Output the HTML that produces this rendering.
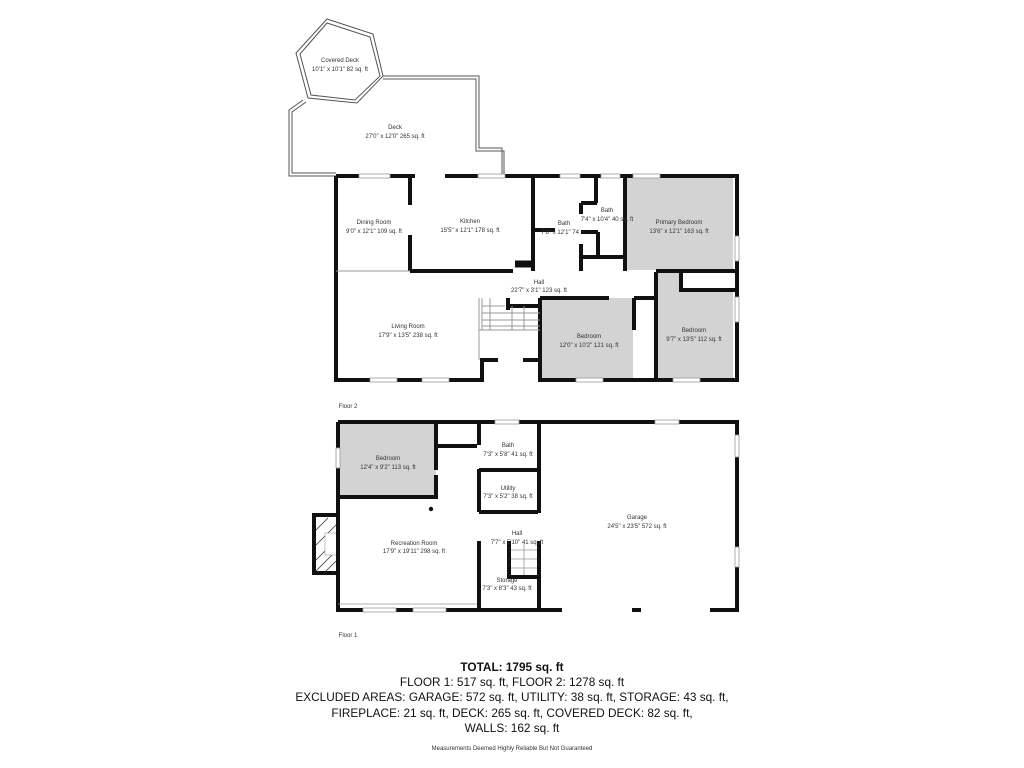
<!DOCTYPE html>
<html><head><meta charset="utf-8"><style>
html,body{margin:0;padding:0;background:#fff;width:1024px;height:768px;overflow:hidden}
svg{display:block}
.l{font-family:"Liberation Sans",sans-serif;font-size:6px;fill:#333;text-anchor:middle}
.t{font-family:"Liberation Sans",sans-serif;font-size:11.8px;fill:#111;text-anchor:middle}
</style></head><body>
<svg width="1024" height="768" viewBox="0 0 1024 768">
<g fill="none" stroke="#555" stroke-width="1">
<polygon points="327,19 373,34 383,76 357,103 308,98 296,53"/>
<polygon points="327,23 370,37 380,76 355,100 311,95 300,54"/>
<polyline points="303,100 289,110 289,176 336,176"/>
<polyline points="306,102 292,112 292,173 336,173"/>
<polyline points="383,76 479,76 479,148 502,148 502,176"/>
<polyline points="383,79 476,79 476,151 504,151 504,176"/>
</g>
<text class="l" x="340" y="62">Covered Deck</text>
<text class="l" x="340" y="71">10'1" x 10'1" 82 sq. ft</text>
<text class="l" x="395" y="129">Deck</text>
<text class="l" x="395" y="138">27'0" x 12'0" 265 sq. ft</text>

<rect x="627" y="178" width="106" height="92" fill="#d3d3d3"/>
<rect x="540" y="298" width="93" height="80" fill="#d3d3d3"/>
<rect x="657" y="272" width="76" height="106" fill="#d3d3d3"/>
<rect x="681" y="272" width="52" height="18" fill="#fff"/>
<g stroke="#111" stroke-width="4" fill="none">
<polyline points="336,176 336,380 482,380 482,360 498,360"/>
<polyline points="523,360 540,360 540,380 737,380 737,176 336,176"/>
<line x1="410" y1="176" x2="410" y2="205"/><line x1="410" y1="235" x2="410" y2="271"/>
<line x1="410" y1="271" x2="513" y2="271"/>
<line x1="533" y1="176" x2="533" y2="271"/>
<line x1="533" y1="230" x2="555" y2="230"/>
<line x1="515" y1="264" x2="531" y2="264" stroke-width="7"/>
<line x1="596" y1="176" x2="596" y2="203"/><line x1="581" y1="203" x2="597" y2="203"/>
<line x1="581" y1="203" x2="581" y2="214"/><line x1="581" y1="232" x2="598" y2="232"/>
<line x1="598" y1="232" x2="598" y2="257"/><line x1="581" y1="244" x2="581" y2="271"/>
<line x1="581" y1="257" x2="625" y2="257"/>
<line x1="625" y1="176" x2="625" y2="271"/>
<line x1="656" y1="271" x2="737" y2="271"/>
<polyline points="681,271 681,290 737,290"/>
<line x1="540" y1="298" x2="609" y2="298"/>
<line x1="540" y1="298" x2="540" y2="380"/>
<line x1="634" y1="298" x2="656" y2="298"/>
<line x1="634" y1="298" x2="634" y2="330"/>
<line x1="656" y1="272" x2="656" y2="380"/>
<line x1="508" y1="298" x2="508" y2="310"/>
<line x1="508" y1="306" x2="540" y2="306"/>
</g>
<g stroke="#999" stroke-width="1" fill="none">
<line x1="336" y1="271" x2="410" y2="271"/>
<line x1="479" y1="298" x2="479" y2="360"/>
<line x1="479" y1="330" x2="540" y2="330"/>
<line x1="482" y1="298" x2="482" y2="330"/>
<line x1="482" y1="306" x2="505" y2="306"/><line x1="482" y1="313" x2="540" y2="313"/>
<line x1="482" y1="320" x2="540" y2="320"/><line x1="482" y1="326" x2="540" y2="326"/>
<line x1="490" y1="298" x2="490" y2="330"/><line x1="512" y1="306" x2="512" y2="330"/><line x1="524" y1="306" x2="524" y2="330"/>
</g>
<g fill="#fff" stroke="#999" stroke-width="0.8">
<rect x="359" y="174" width="31" height="4"/><rect x="478" y="174" width="27" height="4"/>
<rect x="560" y="174" width="20" height="4"/><rect x="601" y="174" width="19" height="4"/><rect x="633" y="174" width="27" height="4"/>
<rect x="370" y="378" width="27" height="4"/><rect x="422" y="378" width="27" height="4"/>
<rect x="576" y="378" width="27" height="4"/><rect x="673" y="378" width="27" height="4"/>
<rect x="735" y="236" width="4" height="25"/><rect x="735" y="297" width="4" height="25"/>
<rect x="415" y="172" width="30" height="7" stroke="none"/>
</g>
<text class="l" x="374" y="224">Dining Room</text><text class="l" x="374" y="233">9'0" x 12'1" 109 sq. ft</text>
<text class="l" x="470" y="223">Kitchen</text><text class="l" x="470" y="232">15'5" x 12'1" 178 sq. ft</text>
<text class="l" x="564" y="225">Bath</text><text class="l" x="560" y="234">7'8" x 12'1" 74</text>
<text class="l" x="607" y="212">Bath</text><text class="l" x="607" y="221">7'4" x 10'4" 40 sq. ft</text>
<text class="l" x="679" y="224">Primary Bedroom</text><text class="l" x="679" y="233">13'6" x 12'1" 163 sq. ft</text>
<text class="l" x="539" y="284">Hall</text><text class="l" x="539" y="292">22'7" x 3'1" 123 sq. ft</text>
<text class="l" x="408" y="328">Living Room</text><text class="l" x="408" y="337">17'9" x 13'5" 238 sq. ft</text>
<text class="l" x="589" y="338">Bedroom</text><text class="l" x="589" y="347">12'0" x 10'2" 121 sq. ft</text>
<text class="l" x="694" y="332">Bedroom</text><text class="l" x="694" y="341">9'7" x 13'5" 112 sq. ft</text>
<text class="l" x="348" y="408">Floor 2</text>

<rect x="339" y="424" width="97" height="71" fill="#d3d3d3"/>
<rect x="314" y="515" width="24" height="58" fill="none" stroke="#111" stroke-width="4"/>
<g stroke="#333" stroke-width="0.8">
<line x1="316" y1="530" x2="328" y2="518"/><line x1="316" y1="545" x2="336" y2="525"/>
<line x1="316" y1="560" x2="336" y2="540"/><line x1="316" y1="571" x2="336" y2="551"/><line x1="326" y1="571" x2="336" y2="561"/>
</g>
<rect x="325" y="533" width="13" height="22" fill="#fff" stroke="#999" stroke-width="0.6"/>
<g stroke="#111" stroke-width="4" fill="none">
<polyline points="338,422 737,422 737,610 710,610"/>
<polyline points="641,610 632,610"/><polyline points="562,610 338,610 338,422"/>
<line x1="436" y1="424" x2="436" y2="470"/><line x1="436" y1="475" x2="436" y2="498"/>
<line x1="338" y1="497" x2="438" y2="497"/>
<line x1="437" y1="446" x2="477" y2="446"/>
<line x1="479" y1="422" x2="479" y2="445"/>
<line x1="479" y1="469" x2="479" y2="512"/><line x1="479" y1="512" x2="538" y2="512"/>
<line x1="479" y1="470" x2="538" y2="470"/>
<line x1="539" y1="422" x2="539" y2="513"/><line x1="539" y1="541" x2="539" y2="610"/>
<line x1="479" y1="541" x2="479" y2="610"/>
<polyline points="509,541 509,577 539,577"/>
</g>
<circle cx="431" cy="509" r="2.2" fill="#111"/>
<g stroke="#999" stroke-width="0.8" fill="none">
<line x1="338" y1="604" x2="477" y2="604"/>
<line x1="511" y1="550" x2="537" y2="550"/><line x1="511" y1="559" x2="537" y2="559"/><line x1="511" y1="568" x2="537" y2="568"/>
<line x1="524" y1="543" x2="524" y2="575"/>
</g>
<g fill="#fff" stroke="#999" stroke-width="0.8">
<rect x="495" y="420" width="24" height="4"/><rect x="655" y="420" width="24" height="4"/>
<rect x="363" y="608" width="33" height="4"/><rect x="413" y="608" width="33" height="4"/>
<rect x="336" y="448" width="4" height="20"/><rect x="735" y="435" width="4" height="22"/><rect x="735" y="547" width="4" height="20"/>
</g>
<text class="l" x="388" y="460">Bedroom</text><text class="l" x="388" y="469">12'4" x 9'2" 113 sq. ft</text>
<text class="l" x="508" y="447">Bath</text><text class="l" x="508" y="456">7'3" x 5'8" 41 sq. ft</text>
<text class="l" x="508" y="490">Utility</text><text class="l" x="508" y="498">7'3" x 5'2" 38 sq. ft</text>
<text class="l" x="637" y="519">Garage</text><text class="l" x="637" y="528">24'5" x 23'5" 572 sq. ft</text>
<text class="l" x="414" y="545">Recreation Room</text><text class="l" x="414" y="553">17'9" x 19'11" 298 sq. ft</text>
<text class="l" x="517" y="535">Hall</text><text class="l" x="517" y="544">7'7" x 5'10" 41 sq. ft</text>
<text class="l" x="507" y="582">Storage</text><text class="l" x="507" y="590">7'3" x 8'3" 43 sq. ft</text>
<text class="l" x="348" y="637">Floor 1</text>

<text class="t" x="512" y="671" font-weight="bold">TOTAL: 1795 sq. ft</text>
<text class="t" x="512" y="686">FLOOR 1: 517 sq. ft, FLOOR 2: 1278 sq. ft</text>
<text class="t" x="512" y="701">EXCLUDED AREAS: GARAGE: 572 sq. ft, UTILITY: 38 sq. ft, STORAGE: 43 sq. ft,</text>
<text class="t" x="512" y="717">FIREPLACE: 21 sq. ft, DECK: 265 sq. ft, COVERED DECK: 82 sq. ft,</text>
<text class="t" x="512" y="732">WALLS: 162 sq. ft</text>
<text class="l" x="512" y="750">Measurements Deemed Highly Reliable But Not Guaranteed</text>
</svg>
</body></html>
